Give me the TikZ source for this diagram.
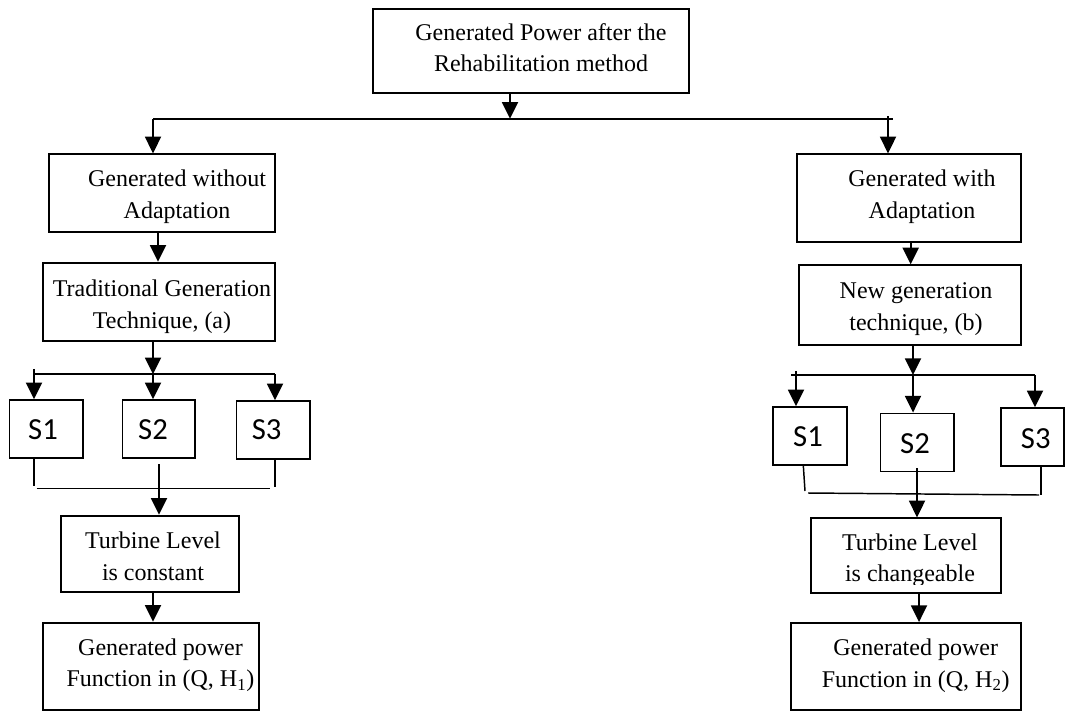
\documentclass[tikz,border=0pt]{standalone}
\usepackage{fontspec}
\setmainfont{Liberation Serif}
\newfontfamily\sfont{Carlito}
\usetikzlibrary{arrows.meta,fit}

\tikzset{
  box/.style={draw, line width=1.4pt, inner sep=0pt},
  sbox/.style={draw, line width=1.1pt, inner sep=0pt},
  stxt/.style={inner sep=0pt, font=\sfont\fontsize{23}{27}\selectfont},
  txt/.style={align=center, inner sep=0pt, anchor=base, font=\fontsize{18}{23.5}\selectfont},
  arr/.style={line width=1.4pt, -{Triangle[length=12.5pt,width=12pt]}},
  ln/.style={line width=1.4pt},
  thinln/.style={line width=1.1pt},
}

\begin{document}
\begin{tikzpicture}[x=0.75pt, y=-0.75pt]
\useasboundingbox (0,0) rectangle (1065,711);

% boxes (text nodes sit on the baseline of their last line)
\node[box, fit={(372.6,9) (689,92.7)}] (top) {};
\node[txt] (top-t) at (541,71.7) {Generated Power after the\\Rehabilitation method};

\node[box, fit={(49,154.3) (275,232.3)}] (wo) {};
\node[txt] (wo-t) at (177,218.3) {Generated without\\Adaptation};
\node[box, fit={(43,262.7) (275,340.7)}] (trad) {};
\node[txt] (trad-t) at (162,328.3) {Traditional Generation\\Technique, (a)};
\node[sbox, fit={(9.5,400) (83,458)}] (ls1) {};
\node[sbox, fit={(122.5,400) (195,458)}] (ls2) {};
\node[sbox, fit={(236.5,401) (310,459)}] (ls3) {};
\node[stxt] (ls1-t) at (43,430) {S1};
\node[stxt] (ls2-t) at (153,430) {S2};
\node[stxt] (ls3-t) at (266.7,430) {S3};
\node[box, fit={(60.6,515.7) (239,591.7)}] (tl) {};
\node[txt] (tl-t) at (153,580) {Turbine Level\\is constant};
\node[box, fit={(43,622.7) (258.6,710)}] (gl) {};
\node[txt] (gl-t) at (160.5,686.7) {Generated power\\Function in (Q, H\textsubscript{1})};

\node[box, fit={(796.7,154.3) (1021,242.3)}] (wi) {};
\node[txt] (wi-t) at (922,218) {Generated with\\Adaptation};
\node[box, fit={(798.8,265.3) (1021,345)}] (new) {};
\node[txt] (new-t) at (916,330) {New generation\\technique, (b)};
\node[sbox, fit={(773,407) (847,465)}] (rs1) {};
\node[sbox, fit={(880.7,413.3) (954,471.7)}] (rs2) {};
\node[sbox, fit={(1001,408) (1064,466)}] (rs3) {};
\node[stxt] (rs1-t) at (808,437) {S1};
\node[stxt] (rs2-t) at (915,444) {S2};
\node[stxt] (rs3-t) at (1035.8,438.7) {S3};
\node[box, fit={(810.8,518.3) (1001,592.7)}] (tr) {};
\begin{scope}
  \clip (810,518) rectangle (1001,584);
  \node[txt] (tr-t) at (910,581.7) {Turbine Level\\is changeable};
\end{scope}
\node[box, fit={(790.8,623) (1020.7,710)}] (gr) {};
\node[txt] (gr-t) at (915.7,687.3) {Generated power\\Function in (Q, H\textsubscript{2})};

% top split
\coordinate (sp) at (510,118.7);
\coordinate (spl) at (153,118.7);
\coordinate (spr) at (888,118.7);
\coordinate (spe) at (893,118.7);
\draw[arr] (top.south -| sp) -- (sp);
\draw[ln] (spl) -- (spe);
\draw[arr] (spl) -- (spl |- wo.north);
\draw[arr] ([yshift=2pt]spr) -- (spr |- wi.north);

% left side
\coordinate (la0) at (158,0);
\draw[arr] (wo.south -| la0) -- (trad.north -| la0);
\coordinate (ls) at (153,374.3);
\coordinate (lsw) at (34,374.3);
\coordinate (lse) at (275,374.3);
\draw[arr] (trad.south -| ls) -- (ls);
\draw[ln] (lsw) -- (lse);
\draw[arr] ([yshift=4pt]lsw) -- (lsw |- ls1.north);
\draw[arr] (ls) -- (ls |- ls2.north);
\draw[arr] (lse) -- (lse |- ls3.north);

\coordinate (ljw) at (34,486);
\coordinate (lje) at (275,486.7);
\coordinate (ljl) at (36.7,488.7);
\coordinate (ljr) at (270,488.7);
\coordinate (lj2) at (159,464);
\draw[thinln] (ls1.south -| ljw) -- (ljw);
\draw[thinln] (ls3.south -| lje) -- (lje);
\draw[thinln] (ljl) -- (ljr);
\draw[arr] (lj2) -- (lj2 |- tl.north);
\coordinate (la1) at (153,0);
\draw[arr] (tl.south -| la1) -- (gl.north -| la1);

% right side
\coordinate (ra0) at (910.7,0);
\draw[arr] (wi.south -| ra0) -- (new.north -| ra0);
\coordinate (rs) at (913,375);
\coordinate (rsl) at (791,375);
\coordinate (rsw) at (796,375);
\coordinate (rse) at (1035,375);
\draw[arr] (new.south -| rs) -- (rs);
\draw[ln] (rsl) -- (rse);
\draw[arr] ([yshift=3pt]rsw) -- (rsw |- rs1.north);
\draw[arr] (rs) -- (rs |- rs2.north);
\draw[arr] (rse) -- (rse |- rs3.north);

\coordinate (rjw) at (805,491);
\coordinate (rjl) at (808,493);
\coordinate (rjr) at (1039,495);
\coordinate (rje) at (1041,495);
\coordinate (rj2) at (917,468);
\draw[thinln] ([xshift=-5pt]rs1.south) -- (rjw);
\draw[thinln] (rjl) -- (rjr);
\draw[thinln] (rs3.south -| rje) -- (rje);
\draw[arr] (rj2) -- (rj2 |- tr.north);
\coordinate (ra1) at (919,0);
\draw[arr] (tr.south -| ra1) -- (gr.north -| ra1);
\end{tikzpicture}
\end{document}
